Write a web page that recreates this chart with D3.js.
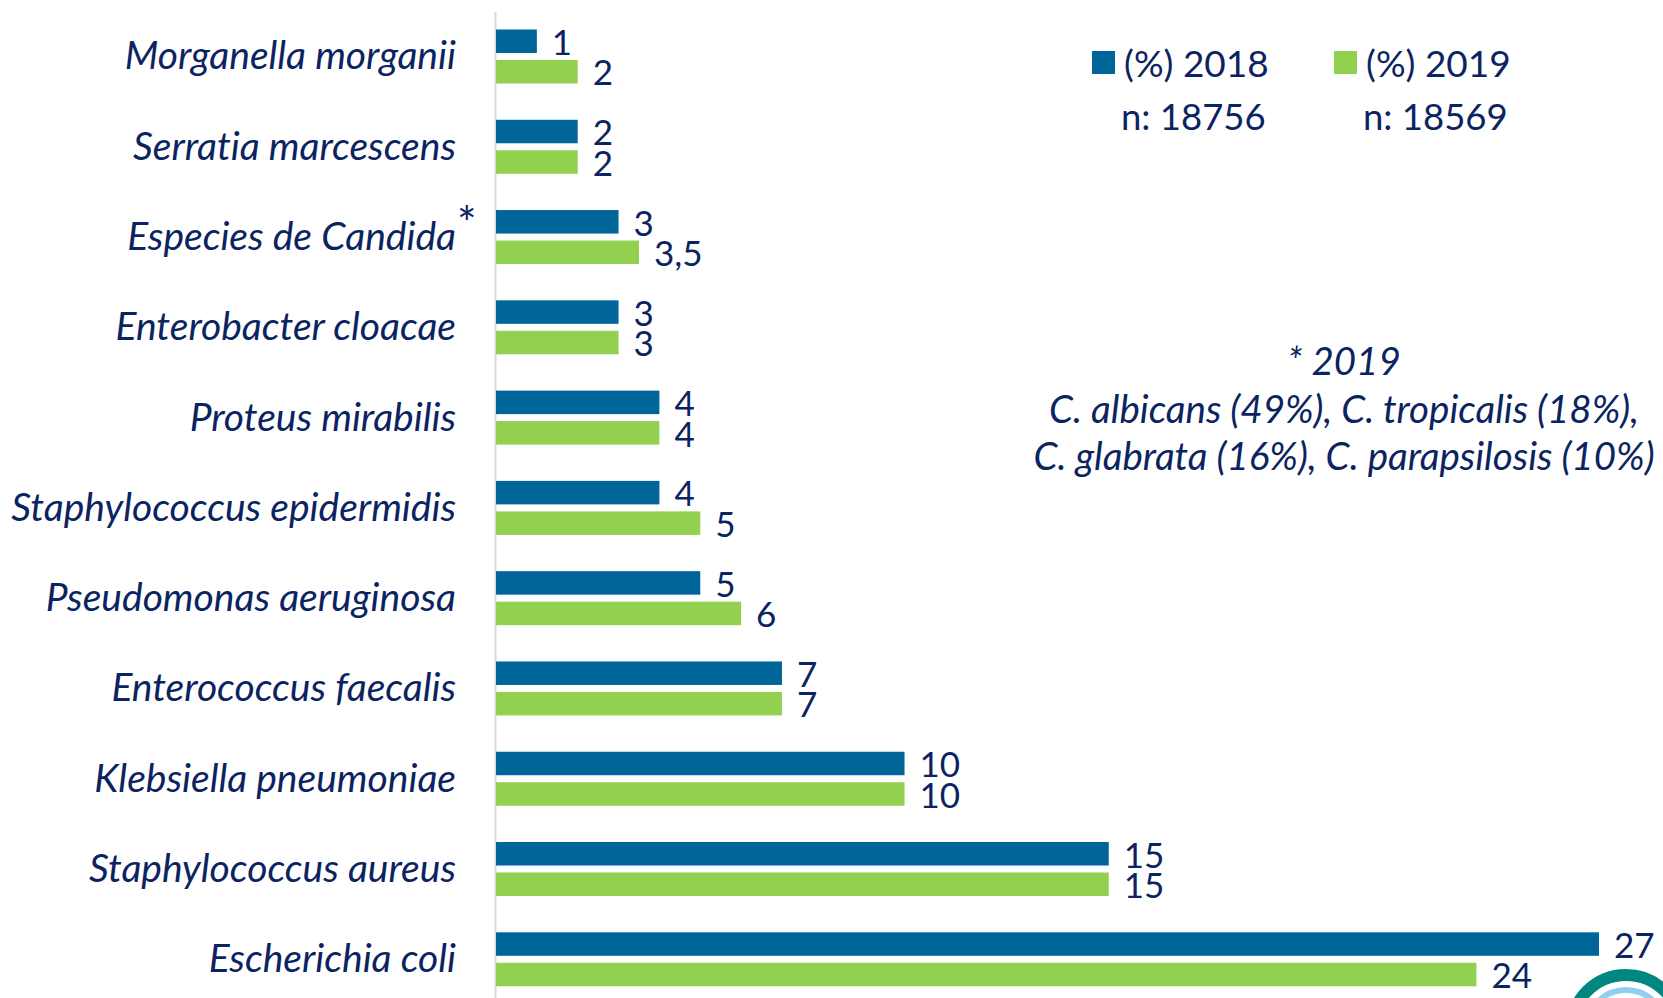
<!DOCTYPE html>
<html>
<head>
<meta charset="utf-8">
<script src="https://cdn.jsdelivr.net/npm/d3@7"></script>
<style>
  html, body { margin: 0; padding: 0; background: #ffffff; overflow: hidden; }
  svg { display: block; }
  text { font-family: Lato, "Open Sans", sans-serif; fill: #0b2461; font-variant-ligatures: none; }
</style>
</head>
<body>
<svg id="chart" width="1663" height="998"></svg>
<script>
// ---- data ----
const categories = [
  "Morganella morganii",
  "Serratia marcescens",
  "Especies de Candida",
  "Enterobacter cloacae",
  "Proteus mirabilis",
  "Staphylococcus epidermidis",
  "Pseudomonas aeruginosa",
  "Enterococcus faecalis",
  "Klebsiella pneumoniae",
  "Staphylococcus aureus",
  "Escherichia coli"
];
const values2018 = [1, 2, 3, 3, 4, 4, 5, 7, 10, 15, 27];
const values2019 = [2, 2, 3.5, 3, 4, 5, 6, 7, 10, 15, 24];
const seriesNames = ["(%) 2018", "(%) 2019"];
const seriesN = ["n: 18756", "n: 18569"];
const starredCategory = "Especies de Candida";
const noteLines = [
  "* 2019",
  "C. albicans (49%), C. tropicalis (18%),",
  "C. glabrata (16%), C. parapsilosis (10%)"
];

// ---- layout ----
const colors = ["#006699", "#92d050"];
const svg = d3.select("#chart");

const x = d3.scaleLinear().domain([0, 27]).range([496, 1599]);
const step = 90.28, pad = 0.402;
const y0 = 11.35;
const y = d3.scaleBand()
  .domain(categories)
  .range([y0, y0 + step * categories.length])
  .paddingInner(pad)
  .paddingOuter(pad / 2);
const yInner = d3.scaleBand()
  .domain([0, 1])
  .range([0, y.bandwidth()])
  .paddingInner(0.2295);

const fmt = v => String(v).replace(".", ",");

const rows = categories.map((c, i) => ({ cat: c, vals: [values2018[i], values2019[i]] }));

// axis line
svg.append("line")
  .attr("x1", x(0) - 0.5).attr("x2", x(0) - 0.5)
  .attr("y1", 12).attr("y2", 998)
  .attr("stroke", "#d9d9d9").attr("stroke-width", 2);

// groups
const g = svg.append("g").selectAll("g").data(rows).join("g")
  .attr("transform", d => `translate(0,${y(d.cat)})`);

g.selectAll("rect").data(d => d.vals.map((v, s) => ({ v, s }))).join("rect")
  .attr("x", x(0))
  .attr("y", d => yInner(d.s))
  .attr("width", d => x(d.v) - x(0))
  .attr("height", yInner.bandwidth())
  .attr("fill", d => colors[d.s]);

g.selectAll("text.val").data(d => d.vals.map((v, s) => ({ v, s }))).join("text")
  .attr("class", "val")
  .attr("x", d => x(d.v) + 15)
  .attr("y", d => yInner(d.s) + yInner.bandwidth() + 2)
  .attr("font-size", 35)
  .text(d => fmt(d.v));

// category labels
svg.append("g").selectAll("text").data(categories).join("text")
  .attr("x", 456)
  .attr("y", d => y(d) + y.bandwidth() / 2 + 13)
  .attr("text-anchor", "end")
  .attr("font-size", 39)
  .attr("font-style", "italic")
  .text(d => d);
svg.append("text")
  .attr("x", 457)
  .attr("y", y(starredCategory) + y.bandwidth() / 2 + 3)
  .attr("font-size", 46)
  .text("*");

// legend
const legX = [1092, 1334];
seriesNames.forEach((name, i) => {
  svg.append("rect").attr("x", legX[i]).attr("y", 51)
    .attr("width", 23).attr("height", 23).attr("fill", colors[i]);
  svg.append("text").attr("x", legX[i] + 32).attr("y", 77)
    .attr("font-size", 37).text(name);
  svg.append("text").attr("x", legX[i] + 29).attr("y", 130)
    .attr("font-size", 36.5).text(seriesN[i]);
});

// note
svg.append("g").selectAll("text").data(noteLines).join("text")
  .attr("x", 1344)
  .attr("y", (d, i) => 375 + i * 47.5)
  .attr("text-anchor", "middle")
  .attr("font-size", 38.5)
  .attr("font-style", "italic")
  .text(d => d);

// partial logo at bottom-right corner
const logo = svg.append("g").attr("transform", "translate(1626,1030)");
logo.append("circle").attr("r", 55).attr("fill", "none")
  .attr("stroke", "#00877f").attr("stroke-width", 12);
logo.append("circle").attr("r", 40).attr("fill", "none")
  .attr("stroke", "#8fd0ef").attr("stroke-width", 6);
</script>
</body>
</html>
